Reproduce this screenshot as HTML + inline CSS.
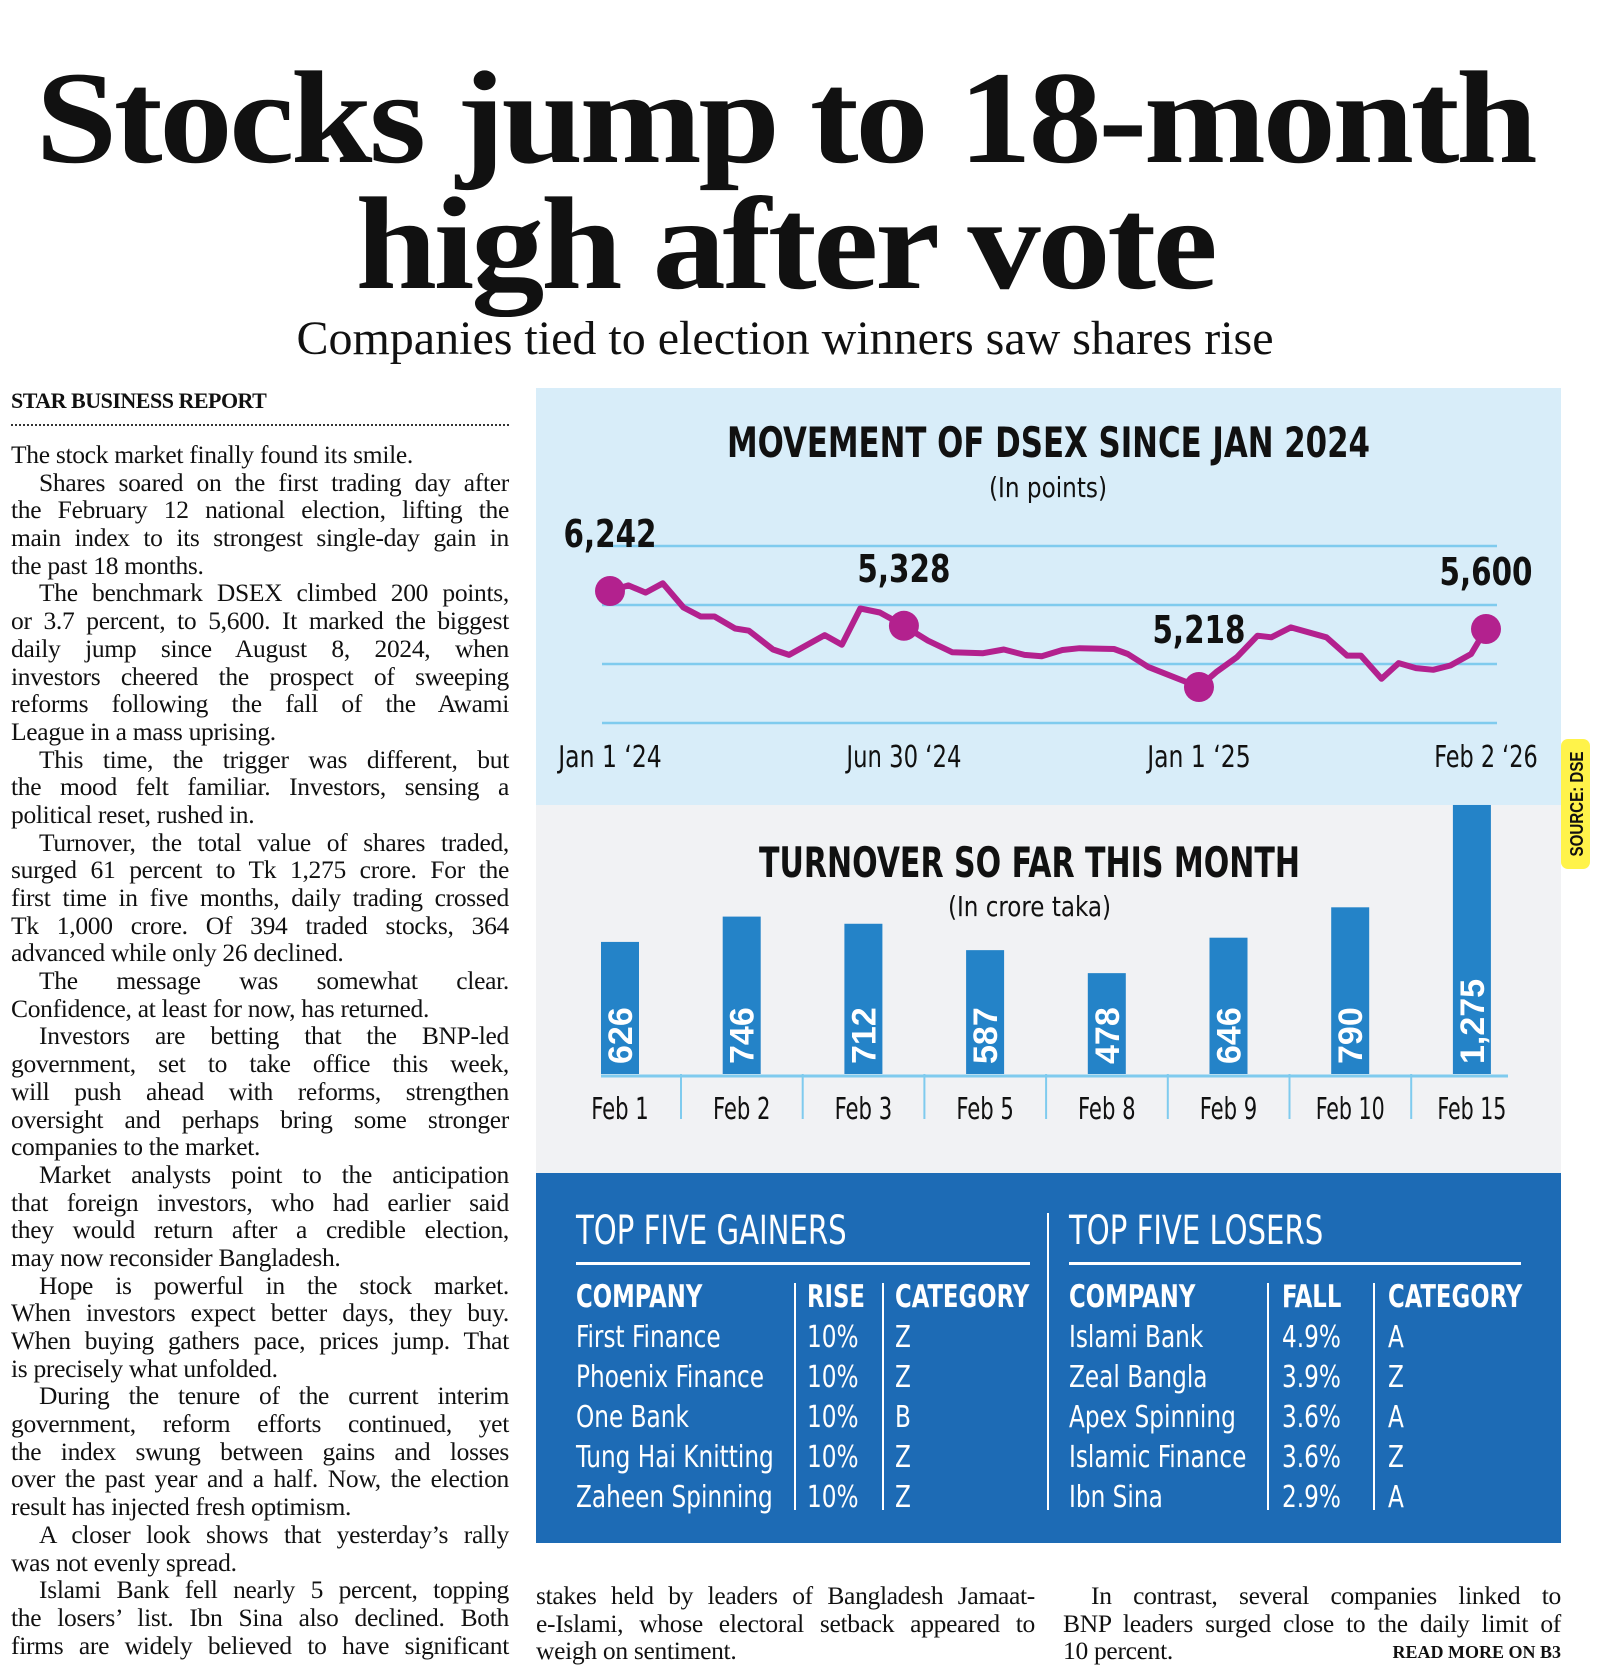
<!DOCTYPE html>
<html><head><meta charset="utf-8">
<style>
*{margin:0;padding:0;box-sizing:border-box}
body{width:1606px;height:1679px;background:#fff;position:relative;overflow:hidden;font-family:"Liberation Serif",serif;color:#111}
.abs{position:absolute}
.h1{position:absolute;left:-18px;width:1606px;text-align:center;font-weight:bold;font-size:132px;letter-spacing:-3px;line-height:1;white-space:nowrap;transform:scaleX(1.11)}
.col{position:absolute;font-size:25.5px;line-height:27.7px;letter-spacing:-0.3px}
.col div{white-space:nowrap;height:27.7px;text-align:justify;text-align-last:justify}
.col div.e{text-align-last:left}
.col div.i{padding-left:28px}
.tbl{position:absolute;color:#fff;font-family:"Liberation Sans Narrow","DejaVu Sans Condensed","Liberation Sans",sans-serif;font-size:30px;line-height:40px;white-space:nowrap;transform-origin:0 0;transform:scaleX(0.86)}
.tbl b{font-size:31px;display:inline-block;transform-origin:0 0;transform:scaleX(0.95)}
.vl{position:absolute;width:2px;background:#fff}
</style></head><body>
<div class="h1" style="top:52px">Stocks jump to 18-month</div>
<div class="h1" style="top:178px">high after vote</div>
<div class="abs" style="left:0;width:1570px;text-align:center;top:311px;font-size:48px;white-space:nowrap">Companies tied to election winners saw shares rise</div>

<div class="abs" style="left:11px;top:388px;font-size:22px;font-weight:bold;letter-spacing:-0.5px">STAR BUSINESS REPORT</div>
<div class="abs" style="left:11px;top:424px;width:498px;border-top:2px dotted #333"></div>

<div class="col" style="left:11px;top:441px;width:498px">
<div class="e">The stock market finally found its smile.</div>
<div class="i">Shares soared on the first trading day after</div>
<div>the February 12 national election, lifting the</div>
<div>main index to its strongest single-day gain in</div>
<div class="e">the past 18 months.</div>
<div class="i">The benchmark DSEX climbed 200 points,</div>
<div>or 3.7 percent, to 5,600. It marked the biggest</div>
<div>daily jump since August 8, 2024, when</div>
<div>investors cheered the prospect of sweeping</div>
<div>reforms following the fall of the Awami</div>
<div class="e">League in a mass uprising.</div>
<div class="i">This time, the trigger was different, but</div>
<div>the mood felt familiar. Investors, sensing a</div>
<div class="e">political reset, rushed in.</div>
<div class="i">Turnover, the total value of shares traded,</div>
<div>surged 61 percent to Tk 1,275 crore. For the</div>
<div>first time in five months, daily trading crossed</div>
<div>Tk 1,000 crore. Of 394 traded stocks, 364</div>
<div class="e">advanced while only 26 declined.</div>
<div class="i">The message was somewhat clear.</div>
<div class="e">Confidence, at least for now, has returned.</div>
<div class="i">Investors are betting that the BNP-led</div>
<div>government, set to take office this week,</div>
<div>will push ahead with reforms, strengthen</div>
<div>oversight and perhaps bring some stronger</div>
<div class="e">companies to the market.</div>
<div class="i">Market analysts point to the anticipation</div>
<div>that foreign investors, who had earlier said</div>
<div>they would return after a credible election,</div>
<div class="e">may now reconsider Bangladesh.</div>
<div class="i">Hope is powerful in the stock market.</div>
<div>When investors expect better days, they buy.</div>
<div>When buying gathers pace, prices jump. That</div>
<div class="e">is precisely what unfolded.</div>
<div class="i">During the tenure of the current interim</div>
<div>government, reform efforts continued, yet</div>
<div>the index swung between gains and losses</div>
<div>over the past year and a half. Now, the election</div>
<div class="e">result has injected fresh optimism.</div>
<div class="i">A closer look shows that yesterday’s rally</div>
<div class="e">was not evenly spread.</div>
<div class="i">Islami Bank fell nearly 5 percent, topping</div>
<div>the losers’ list. Ibn Sina also declined. Both</div>
<div>firms are widely believed to have significant</div>
</div>

<div class="col" style="left:536px;top:1582px;width:499px">
<div>stakes held by leaders of Bangladesh Jamaat-</div>
<div>e-Islami, whose electoral setback appeared to</div>
<div class="e">weigh on sentiment.</div>
</div>
<div class="col" style="left:1063px;top:1582px;width:498px">
<div class="i">In contrast, several companies linked to</div>
<div>BNP leaders surged close to the daily limit of</div>
<div class="e">10 percent.</div>
</div>
<div class="abs" style="right:45px;top:1642px;font-size:18px;font-weight:bold">READ MORE ON B3</div>

<svg class="abs" style="left:0;top:0" width="1606" height="1679">
<rect x="536" y="388" width="1025" height="417" fill="#d8edf9"/>
<rect x="536" y="805" width="1025" height="368" fill="#f1f2f4"/>
<rect x="536" y="1173" width="1025" height="370" fill="#1d6bb5"/>
<rect x="1561" y="739" width="29" height="130" rx="7" fill="#fff34a"/>
<text transform="translate(1583,804) rotate(-90)" text-anchor="middle" font-family="Liberation Sans, sans-serif" font-size="18" font-weight="bold" fill="#111" textLength="105" lengthAdjust="spacingAndGlyphs">SOURCE: DSE</text>
<text x="727" y="457" font-family="DejaVu Sans Condensed, Liberation Sans, sans-serif" font-size="42" font-weight="bold" fill="#111" textLength="643" lengthAdjust="spacingAndGlyphs">MOVEMENT OF DSEX SINCE JAN 2024</text>
<text x="989" y="497" font-family="DejaVu Sans Condensed, Liberation Sans, sans-serif" font-size="28" fill="#111" textLength="118" lengthAdjust="spacingAndGlyphs">(In points)</text>
<g id="grid"></g><g id="line"></g><g id="xlab"></g>
<text x="759" y="877" font-family="DejaVu Sans Condensed, Liberation Sans, sans-serif" font-size="42" font-weight="bold" fill="#111" textLength="541" lengthAdjust="spacingAndGlyphs">TURNOVER SO FAR THIS MONTH</text>
<text x="948" y="916" font-family="DejaVu Sans Condensed, Liberation Sans, sans-serif" font-size="28" fill="#111" textLength="163" lengthAdjust="spacingAndGlyphs">(In crore taka)</text>
<g id="bars"></g>
</svg>

<div class="tbl" style="left:576px;top:1208px;font-size:40px;line-height:46px;transform:scaleX(0.81)">TOP FIVE GAINERS</div>
<div class="abs" style="left:576px;top:1262px;width:454px;height:3px;background:#fff"></div>
<div class="vl" style="left:1047px;top:1213px;height:297px"></div>
<div class="tbl" style="left:1069px;top:1208px;font-size:40px;line-height:46px;transform:scaleX(0.81)">TOP FIVE LOSERS</div>
<div class="abs" style="left:1069px;top:1262px;width:452px;height:3px;background:#fff"></div>
<div class="vl" style="left:794px;top:1283px;height:227px"></div>
<div class="vl" style="left:882px;top:1283px;height:227px"></div>
<div class="vl" style="left:1267px;top:1283px;height:227px"></div>
<div class="vl" style="left:1373px;top:1283px;height:227px"></div>

<div class="tbl" style="left:576px;top:1277px"><b>COMPANY</b><br>First Finance<br>Phoenix Finance<br>One Bank<br>Tung Hai Knitting<br>Zaheen Spinning</div>
<div class="tbl" style="left:807px;top:1277px"><b>RISE</b><br>10%<br>10%<br>10%<br>10%<br>10%</div>
<div class="tbl" style="left:895px;top:1277px"><b>CATEGORY</b><br>Z<br>Z<br>B<br>Z<br>Z</div>
<div class="tbl" style="left:1069px;top:1277px"><b>COMPANY</b><br>Islami Bank<br>Zeal Bangla<br>Apex Spinning<br>Islamic Finance<br>Ibn Sina</div>
<div class="tbl" style="left:1282px;top:1277px"><b>FALL</b><br>4.9%<br>3.9%<br>3.6%<br>3.6%<br>2.9%</div>
<div class="tbl" style="left:1388px;top:1277px"><b>CATEGORY</b><br>A<br>Z<br>A<br>Z<br>A</div>

<script>
// line chart data
const lineDays=[0,16,31,46,64,79,91,109,121,142,156,187,202,218,235,256,277,298,325,343,361,376,394,409,439,451,469,513,528,546,564,576,593,624,642,654,672,687,702,717,732,750,763];
const lineVals=[5895,5933,5884,5947,5783,5722,5722,5641,5626,5498,5462,5596,5531,5776,5749,5659,5558,5480,5473,5498,5462,5453,5495,5507,5502,5468,5379,5244,5345,5446,5592,5581,5648,5581,5457,5457,5300,5406,5372,5361,5390,5468,5637];
const markIdx=[0,15,27,42];
const markLabels=["6,242","5,328","5,218","5,600"];
const gridVals=[6200,5800,5400,5000];
const xTickDays=[0,256,513,763];
const xTickLabels=["Jan 1 ‘24","Jun 30 ‘24","Jan 1 ‘25","Feb 2 ‘26"];
// bar chart data
const barCats=["Feb 1","Feb 2","Feb 3","Feb 5","Feb 8","Feb 9","Feb 10","Feb 15"];
const barVals=[626,746,712,587,478,646,790,1275];
const barLabels=["626","746","712","587","478","646","790","1,275"];

const NS="http://www.w3.org/2000/svg";
function mk(t,a,p){const e=document.createElementNS(NS,t);for(const k in a)e.setAttribute(k,a[k]);p.appendChild(e);return e;}
const xS=d=>610+d/763*876;
const yS=v=>546+(6200-v)/400*59;
const F="DejaVu Sans Condensed, Liberation Sans, sans-serif";

const grid=document.getElementById('grid');
gridVals.forEach(v=>{const l=mk('line',{x1:602,x2:1497,y1:yS(v),y2:yS(v),stroke:'#7fcbee','stroke-width':2.5},grid);

});

const lg=document.getElementById('line');
const pts=lineDays.map((d,i)=>xS(d).toFixed(1)+','+yS(lineVals[i]).toFixed(1)).join(' ');
const pl=mk('polyline',{points:pts,fill:'none',stroke:'#b3218e','stroke-width':6,'stroke-linejoin':'round'},lg);


markIdx.forEach((i,k)=>{
  const cx=xS(lineDays[i]),cy=yS(lineVals[i]);
  const c=mk('circle',{cx:cx,cy:cy,r:15,fill:'#b3218e'},lg);
  
  
  const t=mk('text',{x:cx,y:cy-44,'text-anchor':'middle','font-family':F,'font-size':38,'font-weight':'bold',fill:'#111',textLength:93,lengthAdjust:'spacingAndGlyphs'},lg);
  t.textContent=markLabels[k];
  
  
});
const xl=document.getElementById('xlab');
xTickDays.forEach((d,i)=>{const t=mk('text',{x:xS(d),y:767,'text-anchor':'middle','font-family':F,'font-size':30,fill:'#111',textLength:xTickLabels[i].length*11.5,lengthAdjust:'spacingAndGlyphs'},xl);
t.textContent=xTickLabels[i];

});

const bg=document.getElementById('bars');
const base=1074, k=0.211, bx=i=>620+i*121.7;
const bl=mk('line',{x1:601,x2:1508,y1:base+2,y2:base+2,stroke:'#7fcbee','stroke-width':3},bg);


barCats.forEach((c,i)=>{
  const h=barVals[i]*k, x=bx(i);
  const r=mk('rect',{x:x-19,y:base-h,width:38,height:h,fill:'#2483c8'},bg);
  
  
  const v=mk('text',{transform:`translate(${x+12},${base-10}) rotate(-90)`,'font-family':'Liberation Sans, sans-serif','font-size':34,'font-weight':'bold',fill:'#fff'},bg);
  v.textContent=barLabels[i];
  
  
  const t=mk('text',{x:x,y:1119,'text-anchor':'middle','font-family':F,'font-size':30,fill:'#111',textLength:c.length*11.5,lengthAdjust:'spacingAndGlyphs'},bg);
  t.textContent=c;
  
  
  if(i<barCats.length-1){const s=mk('line',{x1:x+61,x2:x+61,y1:base,y2:1119,stroke:'#7fcbee','stroke-width':2},bg);
  
  }
});
</script>
</body></html>
